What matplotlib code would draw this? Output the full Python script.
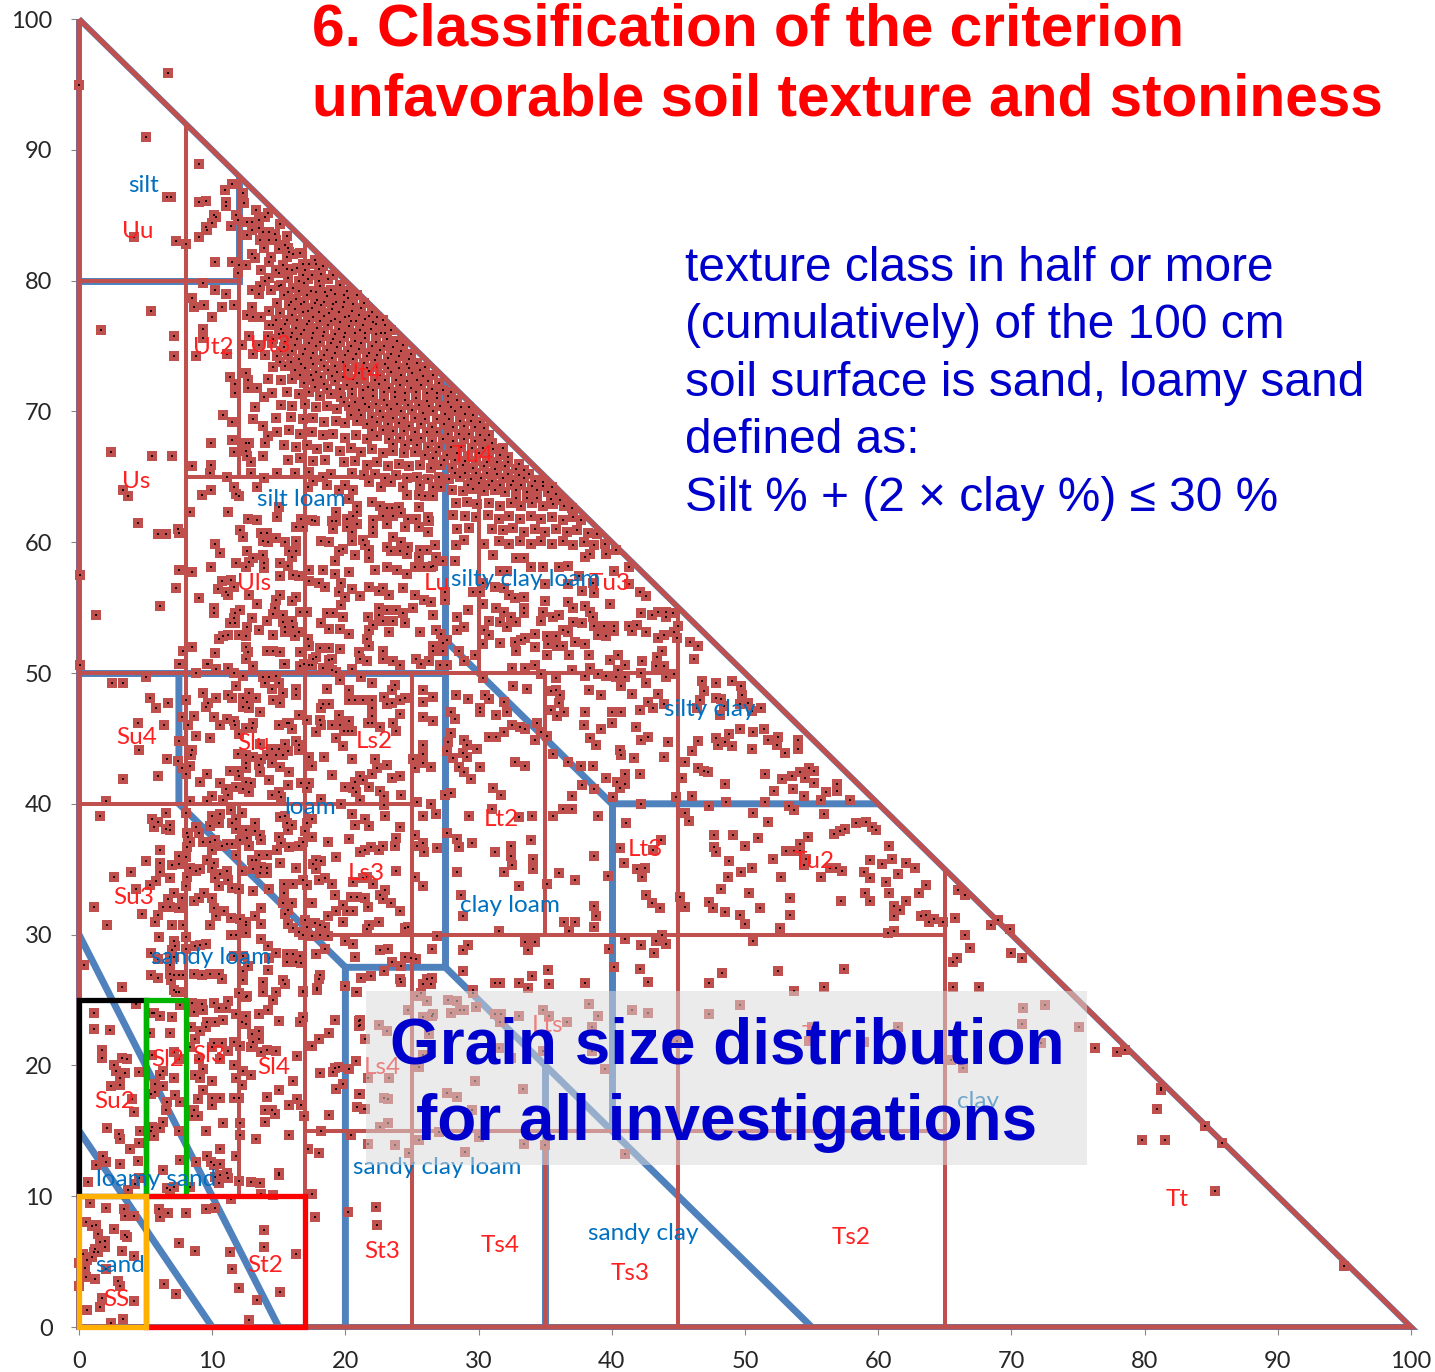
import matplotlib
matplotlib.use('Agg')
import numpy as np
import matplotlib.pyplot as plt
from matplotlib.patches import Rectangle

W, H = 1435, 1372
RED = '#C0504D'
BLUE = '#4F81BD'

# (clay, silt), region by region
silt_pts = [(6.66,95.84),(0.02,94.98),(5.05,90.95),(9,88.9),(11.5,87.4),(10.96,86.9),(6.6,86.4),(6.9,86.4),(9,86),(9.5,86.1),(11,86),(11,85.7),(12.3,86.7),(12.4,85.9),(13.3,85.4),(14.2,85.2),(10.1,85),(10.3,84.9),(9.95,84.4),(9.5,84.1),(9.6,83.9),(11.8,85),(11.9,84.6),(11.4,84.2),(12.6,84.5),(13,84.5),(13.5,84.6),(14,84.9),(15.1,84.3),(4.1,83.3),(9,83.3),(7.3,83),(8,82.8),(12.6,83.5),(13,83.9),(13.5,84),(13.8,83.7),(14.3,83.7),(14.7,83.6),(15.6,83.4),(13.6,83.1),(14.3,83.1),(14.8,83.1),(15.5,82.7),(15,82.4),(15.7,82.5),(15.8,82.2),(13.9,82.5),(10.2,81.4),(11.5,81.4),(12,81.2),(12.5,81.2),(11.9,80.6),(13,82),(13.2,81.75),(14.4,81.8),(14.3,81.4),(15.6,81.8),(16.1,82),(16.6,82.1),(13.7,80.8),(15.6,80.9),(16,80.8),(15,80.6),(14.3,80.2),(14,80),(16.8,81.3),(17.3,81.3),(17.8,81.3),(18.3,81.1),(19.1,80.4),(17.7,81.6),(16.8,80.4),(17.5,80.4),(18.2,80.5)]

upper_left_pts = [(9.3,79.8),(10.2,79.3),(11,79),(8.5,78.7),(8.6,78),(9.4,78.1),(10.7,78),(11.6,78.1),(10,77.2),(5.4,77.7),(1.65,76.2),(9.3,76.3),(7.1,75.8),(9.3,75.6),(12.8,75.8),(15.3,76),(13,79.3),(13.5,79),(13,78),(12.6,77.4),(13.1,77.2),(13.7,77.2),(14.3,77.7),(14.8,77),(14.3,76.6),(7.1,74.2),(8.8,74.2),(11.1,74.4),(12.2,75.1),(11.3,72.6),(11.7,72.1),(11.7,71.4),(12.5,72.9),(12.7,72.4),(12.7,71.8),(13.4,71.8),(13.9,71.1),(13.2,70.3),(10.8,69.7),(11.5,69.2),(13.1,69.4),(13.8,68.9),(9.9,67.6),(11.5,67.8),(11.6,66.9),(12.5,67.6),(12.8,67.6),(12.5,67),(12.6,66.6),(12.9,66.1),(6.95,66.6),(8.5,65.8),(9.9,65.9),(9.8,65.3),(11.1,65),(12.9,65.3),(13.9,64.9),(14.9,65.3),(13.8,66.6),(14,67.6),(14.2,68.1),(0.1,57.5),(0.1,50.6)]

dense_pts = [(13.6,79.6),(14.4,79.3),(15.2,79.7),(16.1,79.4),(16.9,79.8),(17.4,79.2),(18.1,79.6),(18.9,79.3),(19.6,79.7),(20.1,79.2),(15.4,78.9),(16.3,78.6),(17.1,78.9),(17.9,78.5),(18.6,78.8),(19.3,78.4),(20.2,78.7),(20.9,78.9),(21.4,78.3),(14.9,78.3),(15.8,78.1),(16.7,78.2),(17.5,77.9),(18.2,78.1),(19,77.8),(19.8,78),(20.5,77.7),(21.2,77.9),(22,77.6),(22.4,77.2),(15.1,77.5),(16,77.4),(16.8,77.6),(17.6,77.2),(18.4,77.3),(19.2,77.1),(20,77.2),(20.8,76.9),(21.5,77.1),(22.3,76.7),(23,76.6),(14.6,76.6),(15.5,76.7),(16.3,76.4),(17.1,76.7),(17.9,76.4),(18.7,76.6),(19.5,76.3),(20.3,76.5),(21.1,76.2),(21.9,76.3),(22.7,76),(23.4,76.2),(14.2,75.8),(15,75.9),(15.9,75.7),(16.7,75.9),(17.5,75.6),(18.3,75.8),(19.1,75.5),(19.9,75.7),(20.7,75.4),(21.5,75.6),(22.3,75.3),(23.1,75.5),(23.9,75.4),(24.3,75.1),(13.5,75.1),(14.5,75.2),(15.4,74.9),(16.2,75.1),(17,74.8),(17.8,75),(18.6,74.7),(19.4,74.9),(20.2,74.6),(21,74.8),(21.8,74.5),(22.6,74.7),(23.4,74.4),(24.2,74.6),(24.9,74.4),(13.1,74.4),(14,74.3),(14.9,74.2),(15.7,74.3),(16.5,74),(17.4,74.1),(18.2,73.9),(19,74.1),(19.8,73.8),(20.6,74),(21.4,73.7),(22.2,73.9),(23,73.6),(23.8,73.8),(24.6,73.6),(25.4,73.7),(26,73.4),(14.6,73.4),(15.5,73.5),(16.2,73.2),(17,73.3),(17.8,73),(18.7,73.2),(19.4,73),(20.2,73.2),(21,72.9),(21.8,73.1),(22.6,72.8),(23.4,73),(24.2,72.8),(25,72.9),(25.8,72.7),(26.6,72.8),(14.2,72.5),(15.2,72.4),(16,72.5),(16.9,72.2),(17.6,72.4),(18.4,72.1),(19.2,72.3),(20.1,72),(20.9,72.2),(21.7,71.9),(22.5,72.1),(23.3,71.8),(24.1,72),(24.9,71.8),(25.7,72),(26.5,71.7),(27.3,71.6),(27.9,71.5),(14.5,71.4),(15.6,71.5),(16.5,71.3),(17.3,71.5),(18.1,71.2),(18.9,71.3),(19.7,71.1),(20.5,71.3),(21.3,71),(22.1,71.2),(22.9,70.9),(23.7,71.1),(24.5,70.9),(25.3,71),(26.1,70.8),(26.9,71),(27.7,70.7),(28.4,70.9),(15.2,70.5),(16,70.4),(17,70.6),(17.8,70.3),(18.6,70.4),(19.4,70.2),(20.3,70.4),(21,70.1),(21.8,70.3),(22.6,70),(23.4,70.2),(24.2,70),(25,70.1),(25.8,69.9),(26.6,70),(27.5,69.8),(28.2,70),(29,69.8),(29.6,69.7),(14.8,69.5),(15.9,69.6),(16.8,69.4),(17.6,69.5),(18.4,69.2),(19.3,69.3),(20,69.1),(20.9,69.3),(21.6,69),(22.4,69.2),(23.2,69),(24,69.1),(24.8,68.9),(25.7,69),(26.5,68.8),(27.4,69),(28.1,68.8),(28.9,68.9),(29.7,68.8),(30.4,68.7),(14.9,68.4),(15.8,68.6),(16.6,68.3),(17.5,68.4),(18.3,68.2),(19.1,68.3),(20,68),(20.8,68.2),(21.6,67.9),(22.4,68.1),(23.3,67.9),(24.1,68),(24.9,67.8),(25.7,68),(26.5,67.7),(27.3,67.9),(28.1,67.7),(28.9,67.9),(29.7,67.7),(30.5,67.8),(31,67.6),(15.4,67.4),(16.3,67.3),(17.1,67.4),(17.9,67.1),(18.7,67.3),(19.6,67),(20.4,67.2),(21.2,66.9),(22,67.1),(22.8,66.8),(23.6,67),(24.4,66.8),(25.2,66.9),(26,66.7),(26.8,66.9),(27.6,66.7),(28.4,66.8),(29.2,66.6),(30,66.8),(30.8,66.6),(31.6,66.7),(32.2,66.5),(15.7,66.3),(16.6,66.4),(17.6,66.2),(18.5,66.3),(19.9,66.1),(20.7,66.2),(21.6,65.9),(22.4,66.1),(23.2,65.8),(24,66),(24.8,65.8),(25.6,65.9),(26.4,65.7),(27.2,65.9),(28,65.7),(28.8,65.9),(29.6,65.7),(30.4,65.8),(31.2,65.6),(32,65.8),(32.8,65.6),(33.4,65.5),(16.2,65.3),(17.3,65.4),(18.9,65.2),(20.5,65.3),(21.4,65.1),(22.2,65.2),(23,64.9),(23.8,65.1),(24.6,64.9),(25.4,65),(26.2,64.8),(27,65),(27.8,64.8),(28.6,65),(29.4,64.8),(30.2,64.9),(31,64.7),(31.8,64.9),(32.6,64.7),(33.4,64.9),(34.2,64.7),(34.8,64.6),(28,64),(28.8,63.9),(29.6,64.1),(30.4,63.9),(31.2,64),(32,63.8),(32.8,64),(33.6,63.8),(34.4,64),(35.2,63.8),(35.8,63.7),(28.3,63),(29.1,63.1),(29.9,62.9),(30.8,63),(31.6,62.8),(32.4,63),(33.2,62.8),(34,63),(34.8,62.8),(35.6,62.9),(36.4,62.8),(37,62.6),(28.1,62.1),(29,62),(29.8,61.9),(30.7,62.1),(31.5,61.8),(32.3,62),(33.1,61.8),(33.9,62),(34.7,61.8),(35.5,61.9),(36.3,61.7),(37.1,61.9),(37.7,61.7),(28.4,61),(29.3,61.1),(31,61),(31.8,60.9),(32.6,61.1),(33.4,60.8),(34.2,61),(35,60.8),(35.8,61),(36.6,60.8),(37.4,60.9),(38.2,60.7),(38.9,60.6),(28.9,60.2),(31.5,60.1),(32.3,59.9),(33.1,60.1),(33.9,59.9),(34.7,60.1),(35.5,59.9),(36.3,60.1),(37.1,59.8),(37.9,60),(38.7,59.8),(39.5,59.9)]

# the solid core along the diagonal, where single markers merge
core_pts = [(14.8,80.8),(15.3,81.2),(16.4,81),(17,80.8),(18,80.9),(15.7,80.2),(16.5,80),(17.2,80.1),(18,80),(18.7,80.1),(15,79.6),(15.7,79.1),(16.5,79.2),(17.8,79.1),(18.5,79.1),(19.2,79),(19.9,78.9),(15.9,78.4),(16.9,78.4),(17.7,78.3),(18.4,78.4),(19.1,78.2),(19.9,78.4),(20.6,78.2),(16.2,77.8),(17.2,77.7),(18,77.6),(18.8,77.5),(19.5,77.6),(20.3,77.3),(21,77.4),(21.8,77.3),(15.6,77),(16.4,77),(17.3,76.9),(18.1,76.9),(18.9,76.9),(19.6,76.8),(20.4,76.9),(21.3,76.6),(22.1,76.8),(22.8,77),(15.2,76.3),(16,76),(16.9,76.2),(17.6,76),(18.4,76.1),(19.2,75.9),(20,76),(20.7,76),(21.5,76),(22.3,75.9),(23,76),(14.6,75.5),(15.5,75.3),(16.4,75.5),(17.3,75.2),(18.1,75.3),(18.9,75.2),(19.6,75.3),(20.4,75),(21.2,75.2),(22,75),(22.9,75),(23.6,74.9),(15.2,74.6),(16,74.6),(16.8,74.4),(17.6,74.5),(18.4,74.3),(19.2,74.5),(20,74.3),(20.8,74.4),(21.6,74.2),(22.4,74.3),(23.2,74.1),(24,74.2),(24.8,74),(15.1,73.8),(15.9,73.8),(16.7,73.6),(17.6,73.6),(18.4,73.5),(19.2,73.5),(20,73.5),(20.8,73.4),(21.6,73.3),(22.4,73.4),(23.2,73.3),(24,73.3),(24.8,73.3),(25.6,73.2),(16.6,72.8),(17.4,72.8),(18.2,72.6),(19,72.7),(19.8,72.6),(20.6,72.5),(21.4,72.5),(22.2,72.4),(23,72.4),(23.8,72.4),(24.6,72.3),(25.4,72.4),(26.2,72.3),(27,72.2),(17.7,71.9),(18.6,71.7),(19.6,71.7),(20.5,71.7),(21.3,71.6),(22.1,71.6),(22.9,71.5),(23.7,71.5),(24.5,71.4),(25.3,71.5),(26.1,71.4),(26.9,71.4),(27.7,71.2),(19.9,70.7),(20.7,70.7),(21.5,70.6),(22.3,70.6),(23.1,70.5),(23.9,70.6),(24.7,70.5),(25.5,70.5),(26.3,70.4),(27.1,70.4),(27.9,70.3),(28.7,70.3),(29.3,70.3),(20.4,69.7),(21.2,69.7),(22,69.6),(22.8,69.6),(23.6,69.5),(24.4,69.5),(25.2,69.5),(26,69.4),(26.9,69.4),(27.8,69.4),(28.6,69.3),(29.4,69.3),(30.1,69.2),(22,68.6),(22.8,68.6),(23.6,68.5),(24.4,68.5),(25.2,68.4),(26.1,68.4),(26.9,68.4),(27.7,68.3),(28.5,68.3),(29.3,68.3),(30.1,68.2),(30.8,68.2),(23.6,67.5),(24.5,67.4),(25.4,67.4),(26.2,67.3),(27,67.3),(27.9,67.3),(28.7,67.3),(29.5,67.2),(30.3,67.2),(31.1,67.1),(31.8,67.2),(26.6,66.4),(27.4,66.3),(28.2,66.3),(29,66.2),(29.8,66.2),(30.6,66.1),(31.4,66.1),(32.2,66.1),(33,66),(28.2,65.3),(29,65.3),(29.8,65.3),(30.6,65.3),(31.4,65.2),(32.2,65.2),(33,65.1),(33.8,65.2),(29.2,64.4),(30,64.5),(30.8,64.4),(31.6,64.4),(32.4,64.4),(33.2,64.4),(34,64.3),(34.8,64.3),(35.5,64.2),(32.8,63.4),(33.6,63.4),(34.4,63.4),(35.4,63.3),(36.1,63.2)]

uls_pts = [(9.2,63.6),(9.9,64),(11.6,64.2),(11.8,63.7),(12,63.5),(13.4,64.2),(11.2,62.3),(12.7,61.8),(13.4,61.7),(14.9,61.9),(15,62.7),(12.1,60.9),(12.3,60.4),(10.2,59.9),(10.6,59.2),(13.7,60.7),(14.1,60.7),(13.8,60.1),(14.2,60),(14.8,60.3),(15.5,60),(16.3,60.1),(15.8,59.3),(16.3,59.3),(16,58.9),(12.6,59.3),(13.1,58.8),(12.8,58.5),(13.8,59),(13.9,58.4),(13.9,58),(11.8,58.4),(9.9,58.1),(12.5,58.1),(7.5,57.9),(8.5,57.7),(15.1,58.4),(15.7,58.2),(15.1,57.4),(16.1,57.5),(16.5,57.4),(17.3,57.9),(10.7,57),(11.4,57.1),(10.4,56.4),(11,56.2),(11.2,56),(11.6,56.6),(12.8,56),(15.1,56),(9,55.7),(10.1,55),(10.1,54.6),(13.4,55.3),(14.8,55.6),(14.7,55),(16.3,55.8),(16,55.5),(12.1,54.8),(11.7,54.6),(13,54.2),(14.6,54.5),(15.3,54.4),(11.6,54.2),(11.3,53.8),(11.7,53.8),(14.1,54),(15.3,53.9),(16,54),(15.5,53.5),(16.1,53.5),(16.6,54.7),(17.1,54.7),(13.5,53.3),(12.6,53.5),(12,52.9),(11.2,52.9),(10.8,52.8),(10.5,52.6),(14.6,52.9),(12.5,52.8),(15.5,53.1),(16.2,52.8),(16.5,53.1),(17.2,52.6),(8.5,52),(12.5,52),(12.7,51.6),(12.5,51.1),(10.2,51.5),(7.8,51.7),(14.1,51.7),(14.6,51.7),(15.1,51.6),(16.6,51.6),(17.3,52.1),(17.8,51.2),(7.6,50.7),(9.6,50.7),(15.5,50.7),(16.9,50.7),(17.3,50.6),(19,51.1),(1.3,54.4),(6.1,55.1),(7.3,56.5),(7.5,60.7),(8.3,62.3),(7.4,61),(6.5,60.6),(4.4,61.5),(5.9,60.6),(3.7,63.5),(3.3,64),(2.4,66.9),(5.5,66.6)]

lu_pts = [(17.6,64.7),(18.3,65),(17.2,64.2),(18.6,64.4),(19.5,64),(20,64.4),(20.6,64),(21.8,64.6),(22.7,64.2),(23.4,64.6),(24.3,64.2),(24.6,63.6),(25.6,64.4),(26.6,64.2),(27.2,64.2),(25.5,63.6),(26,63.5),(26.6,63.5),(20.3,63.3),(22,63.1),(20.9,62.8),(19.3,62.3),(20.9,62.3),(20.6,62),(22.6,62.8),(23.1,62.6),(23.5,62.6),(24,62.7),(24.2,62.2),(23.6,62),(22.8,62),(25.5,62.7),(26.2,61.9),(26.3,61.6),(16.7,61.8),(17.5,61.7),(17.7,61.6),(19,61.6),(19.3,61.6),(20.1,61.8),(20.9,61.4),(16.3,61.2),(16.8,61.2),(19.1,61),(20.1,61.2),(20.5,60.8),(22.1,61.7),(22.1,61.2),(23.1,61.4),(22.1,60.7),(24.7,61.8),(25.3,61.8),(25.5,61.2),(24.5,61.2),(26.2,60.8),(23.6,60.4),(24.2,60),(18.2,60.1),(18.8,60),(20.5,60.1),(21.3,60.2),(21.5,59.8),(21.8,59.4),(23.1,59.6),(23.4,59.3),(24.7,59.6),(24.6,59.1),(24.1,59.3),(19.8,59.5),(19.5,59.3),(20.7,59),(21.8,58.8),(19.2,58.6),(25.6,59.4),(26.1,59.4),(26.7,59.8),(25.5,58.9),(26.8,58.9),(28.2,58.6),(27.3,58.6),(25.2,58.1),(25.9,58.1),(26.4,58.1),(26.6,58.2),(22.2,57.9),(23.1,58.1),(23.9,57.9),(24.6,57.6),(18.3,57.9),(19.2,57.6),(20.3,57.7),(17.3,57),(18,56.9),(18.5,56.6),(19.7,56.9),(19.5,56.2),(20.5,56.4),(20,55.8),(21.1,55.9),(21.8,56.6),(22.5,56.3),(22.8,56.5),(23.3,56),(24.3,56.5),(25.2,56),(25.9,55.6),(26.4,55.4),(27.5,56.2),(27.5,55.6),(19.7,55.2),(18.6,54.6),(19.1,54.6),(19.8,54.3),(21.7,54.3),(22.5,54.4),(23.1,54.8),(22.5,55),(23.8,54.8),(24.3,54.6),(25.1,55),(26.6,54.4),(22.1,53.7),(22.8,54),(23.6,54),(24.5,53.8),(18.2,53.8),(18.8,53.4),(19.6,53.4),(20.3,53),(21.8,53.3),(23.3,53.1),(25.6,53.1),(26.8,53.3),(27.2,53),(21.6,52.6),(21.8,52.1),(26.6,52.1),(27.3,52.3),(18.1,51.9),(18.8,51.9),(19.6,51.8),(21,51.6),(22.8,51.7),(21.1,51.1),(21.6,50.9),(22.8,51.1),(23.6,50.9),(24.1,50.6),(25.3,51.1),(25.7,50.7),(26.3,50.9),(27.1,50.6),(27.6,50.6),(18.8,51),(17.6,51.1)]

scl_pts = [(28.3,59.8),(29.2,54.8),(28.4,54.3),(28.9,53.5),(28.4,53.3),(27.6,52.5),(28.5,51.7),(26.6,51.7),(27.3,51.7),(28.9,50.9),(29.7,51.4),(30.3,49.6),(30.3,55.3),(30.4,53.3),(30.8,52.9),(30.3,52.2),(30.8,54),(31.6,53.9),(32.1,53.5),(31.3,55),(31.9,54.7),(32.4,54.3),(32.8,53.9),(33.4,55),(33.4,54.6),(34.8,54.7),(35.6,54.3),(36,54.4),(34.96,55.5),(36.7,55.4),(37.1,55),(38,55.1),(38.4,54.7),(38.6,54.3),(37.1,53.9),(37.8,53.8),(38.7,53.6),(39.4,53.6),(34.7,54),(34.2,53),(33.5,52.7),(32.7,52.4),(33.2,52.5),(31.6,52.3),(32.8,51.7),(34.2,52),(35.1,52.8),(35.8,52.8),(35.2,52.2),(35.9,52.1),(35.1,51.4),(36.3,53.3),(36.7,53.1),(37.2,52.4),(38,52.2),(36.3,52.1),(36.8,51.4),(38.3,51.4),(39,52.9),(39.6,52.8),(40.2,53.6),(39.9,51),(32.5,50.4),(33.5,50.4),(34.2,50.6),(34.7,49.9),(35.8,49.6),(37,50.2),(38,49.8),(38.4,50.4),(39,49.9),(39.6,49.8),(40.5,50.2),(40.5,51.4),(41,50.6),(42.3,50.9),(43.4,51.2),(43.8,51.7),(43.9,50.5),(43.3,50.5),(44.7,49.9),(44.1,49.7),(42.2,50),(41,49.7),(40.3,49.7),(42.6,49.2),(30.4,59.9),(31.1,59),(31.6,57.8),(32.1,57.8),(32.8,58.8),(33.4,58.8),(33.9,58.1),(34.8,58.1),(36,58.1),(36.7,58.2),(38,58.9),(38.4,59.1),(39.6,59.1),(40.3,59.4),(41.3,58.1),(40.2,57.8),(41.3,56.8),(42.1,56.2),(42.6,55.9),(39.9,55.3),(29.6,56.2),(30.1,56.2),(31.2,56.6),(32.3,56),(32.7,55.7),(33.4,55.8),(35,56.8),(36.7,56.8),(37.8,56.3),(38.7,56.1),(38.6,56.9),(37.5,57.4),(31.9,56.5),(30.3,56.9),(42.2,54.6),(43,54.4),(43.5,54.7),(44.1,54.7),(44.6,54.6),(44.1,54.3),(45,53.6),(44.7,53.1),(44.9,52.7),(43.9,52.9),(43.5,52.7),(42.6,53.1),(41.9,53.7),(41.3,53.6),(41.5,53.2),(40.2,53.2),(45.9,52.4),(46.5,52.1),(46.2,51.1)]

silty_clay_pts = [(46.8,49.4),(47.8,49.2),(49,49.4),(49.7,49),(46.9,48.6),(49.8,48.3),(47.8,48.1),(48.2,48),(46.6,47.9),(46.4,47.3),(48.4,47.5),(49.6,47.6),(50.2,47.7),(51.2,47.3),(50.5,47.1),(48.1,46.8),(51.4,45.7),(49.6,45.7),(50.6,45.5),(48.8,45.3),(47.8,45),(48.5,44.7),(48,44.5),(49,44.4),(51.7,44.9),(52.5,45.1),(52.4,44.5),(50.5,44.2),(53,43.9),(54,44.9),(54,44.2),(46.5,44.8),(46,44),(45.5,43.2),(45.3,42),(46.5,42.7),(46.9,42.5),(47.2,42.4),(48.5,41.5),(51.5,42.3),(52.8,41.9),(53.5,42.1),(54.1,42.4),(54.5,42),(54.8,42.7),(55.2,42.5),(55.2,41.6),(52.2,41),(53.6,41.1),(54.4,40.6),(56.1,40.9),(56.9,41.5),(56.9,41),(55.7,40.3),(57.9,40.3),(51.5,40.1),(46,40.6),(44.8,40.5),(47.3,39.8),(48.6,40.1),(53.3,39.8),(53.7,39.5),(50.6,39.3),(55.9,39.2),(45.5,39.3),(45.8,38.7),(51.7,38.6),(58.3,38.5),(59.1,38.6),(59.5,38.2),(59.8,38)]

tu2_pts = [(57.5,38.1),(57.1,37.9),(56.7,37.7),(54.7,37.5),(47.7,37.6),(49.1,37.6),(51,37.4),(54.1,36.9),(53.1,36.4),(53.7,36.4),(54.1,36.4),(50,36.8),(47.7,36.7),(47.8,36.3),(52.1,35.8),(54.6,35.8),(54.4,35.3),(48.8,35.6),(56.4,35.1),(56.8,35.1),(57.3,34.9),(49.7,34.8),(50.5,35.1),(48.7,34.4),(52.7,34.4),(55.7,34.4),(60.8,36.8),(61,35.8),(60.3,35.4),(59.4,35.7),(58.9,34.8),(59.4,34.3),(62.1,35.5),(62.8,35.1),(61.5,34.6),(60.6,34),(60.8,33.2),(63.6,33.8),(63.1,33.2),(59,33.2),(59.4,32.6),(62.1,32.6),(57.2,32.6),(53.4,32.8),(50.3,33.2),(48.2,33.5),(61.2,32.2),(61.6,31.9),(61.2,31.4),(63.2,31.4),(63.6,31.5),(63.8,31),(64.2,31.2),(64.9,31),(65.8,31.3),(61.2,30.3),(60.7,30.1),(53.4,31.5),(51.1,32),(49.6,31.5),(48.5,31.7),(50,30.8),(47.3,32.5),(47.6,32),(52.6,30.5),(50.6,29.5),(45.1,32.9),(45.5,32.1)]

lt3_pts = [(40.7,49),(41.5,48.4),(42.7,47.8),(43.1,47.3),(43.5,48.4),(43.9,47.6),(42.1,47.2),(40.7,47),(40,47),(40,46.2),(41.8,45.9),(42.2,44.9),(42.7,45.1),(44.2,44.7),(43.9,43.6),(41.7,43.5),(40.6,44.1),(40.7,43.7),(39.6,42),(41,42.3),(42.1,42.3),(40.4,41.7),(41,41.5),(40.6,41.2),(40.1,40.5),(42.2,40),(41.1,38.5),(40.6,36.6),(43.1,36.5),(43.7,37.2),(40.9,35.5),(41.9,35),(42.5,35.1),(42.3,34.4),(42.6,33),(43,32.4),(43.6,32),(41,29.7),(42.2,29.2),(43.3,29.5),(43.8,30),(44.1,29.3),(43.2,28.6),(39.8,28.9),(39.7,34.5),(40.2,27.5),(42.1,27.4),(42.7,24)]

clay_loam_pts = [(28.3,48.3),(29.2,48),(30.1,47.3),(30.1,47),(30.8,48),(30.5,48.3),(31.9,47.8),(31.3,46.8),(32.1,47),(32.5,46),(33.1,45.9),(33.5,45.7),(34.4,46.2),(30.8,45.1),(31.3,45.1),(31.9,45.5),(34.2,44.9),(34.7,45.5),(35.1,45.2),(32.7,43.2),(33.5,42.9),(35.6,43.8),(36.7,43.2),(37.7,42.9),(38.6,42.9),(32.6,49),(33.6,48.8),(35.4,48.6),(35.8,48.7),(36.1,48.3),(36,47.7),(35.4,47.2),(36.4,47),(35.9,46.7),(38.3,48.7),(39.2,48.3),(38,47),(37.9,46),(39.2,45.7),(38.4,45),(38.8,44.5),(37.8,41.4),(38.7,41.1),(37,40.6),(36.3,39.6),(37,39.6),(35.6,39.1),(39,39.1),(31.1,41.2),(31.7,40.7),(31,39.6),(29.3,39.1),(33,39),(34,39.1),(33.9,37.2),(32.4,36.8),(32.4,36),(34.1,35.8),(34.1,35),(32.5,35.3),(31.9,34.8),(31.2,36.3),(29.5,37),(28.4,37.3),(28.5,36.7),(28.4,34.8),(33,33.7),(28.7,33),(36,34.7),(37.2,34.2),(35.1,33.9),(38.7,36),(38.7,32.2),(38.8,31.4),(38.7,30.6),(36.4,31),(37.2,31),(36.8,30.3),(28.8,31.4),(31.5,30.3),(29.2,29.2),(28.8,28.8),(33.5,29.4),(34.2,29.4),(33.7,28.8),(27.6,37.8),(25.8,48.7),(26.6,48.2),(25.8,47.8),(25.8,46.6),(26.6,46.3),(27.9,47),(28.2,46.5),(27.9,45.4),(27.7,44.7),(28.9,44.9),(29.1,44.5),(29.9,44.2),(27.6,44),(28.8,43.9),(29.1,43.6),(28.1,43.5),(30.1,42.8),(28.5,42.8),(28.9,42.4),(29.4,41.9),(25.8,44.5),(25.8,43.8),(25.1,43.4),(25.8,43.1),(26.4,42.8),(25.2,42.7),(27.5,40.7),(27.9,40.8),(25.4,40.1),(26.4,40),(25.8,39.1),(26.8,39.2),(25.2,37.6),(25.8,37),(25.4,36.8),(25.9,36.3),(26.9,36.6),(25.2,34.4),(25.8,33.7),(26.9,29.9),(26.5,28.9),(24.5,28.3),(24.9,28.2),(25.3,28.1)]

lower_mid_pts = [(28.8,27.2),(35.2,27.3),(34,26.8),(33.7,25.9),(29.6,25.8),(38,26.3),(25.7,25.5),(26.5,26.7),(26.1,26.6),(25.8,26.2),(28.9,24.2),(29.8,24.5),(31.2,23.9),(31.7,23.9),(33,23.8),(34.8,24.2),(35.3,23.8),(25.8,23.7),(26.5,23.8),(48.3,27.1),(52.5,27.2),(57.4,27.4),(53.7,25.7),(55.9,26),(49.6,24.6),(47.3,23.9),(65.6,27.9),(65.6,26),(25.4,25.3),(26.1,24.9),(27.7,25),(28.4,24.9),(29.6,25.5),(24.7,24.2),(26.6,23.9),(27.9,24),(28.6,24.2),(22.5,23.1),(23.1,22.6),(26.3,22.4),(31.6,23.3),(38.3,24.7),(39,23.8),(41.5,24.2),(36.6,23.3),(38.5,22.9),(38.5,21.1),(31.5,21.3),(34.8,21.1),(32.4,20.6),(25.8,20.8),(39.5,19.7),(25.5,19.9),(21.7,19),(23.3,19),(29.7,18.8),(33.3,18.2),(27.6,17.9),(28.4,17.6),(22.9,17.5),(23.2,17.4),(29.5,16.6),(23.2,15.6),(22.6,15.3),(27,14.9),(25.5,14.3),(21.7,14),(23.7,13.9),(33.4,14),(35,13.9),(30,14.5),(24.8,13.3),(29,13.4),(41,13.2),(70.9,24.4),(72.5,24.6),(70.8,23.2),(75.1,22.9),(61.5,22.9),(72.2,21.7),(58.9,21.8),(65.5,20.4),(66.4,19.8),(55,22.9),(54.8,21.9),(44.9,21.9),(67.6,26),(42.7,26.4),(47.3,26.3),(25.8,26.2),(26.4,26.2),(31.2,26.3),(31.6,26.3),(33,26.3),(35.3,26.2),(24.2,26.4),(21.5,22),(21,23.4),(21,23),(76.3,21.3),(21,17.8),(21.4,16.7)]

clay_pts = [(77.9,21),(78.5,21.2),(81.2,18.1),(80.9,16.7),(79.8,14.3),(81.5,14.3),(84.5,15.4),(85.8,14.1),(85.3,10.4),(95,4.7),(81.2,18.3),(66.5,30),(66.9,29),(65.9,28.2),(69.9,30.4),(69,31.1),(70,28.6),(70.8,28.2),(66,33.4),(66.5,33),(68.5,30.7)]

su2_pts = [(1.15,24),(1.1,22.8),(2.3,22.7),(1.75,21.2),(1.75,20.6),(3.2,20.6),(3.6,20.5),(2.6,20),(2.75,19.6),(3.45,19.4),(4.5,19.5),(3.1,19),(3.1,18.5),(2.4,18.4),(3.95,17.4),(4.15,16.4),(2.1,15.2),(3,14.75),(3.1,14.4),(4.6,15),(4.5,14.1),(3.8,13.6),(1.8,13.1),(2,12.6),(1.3,12.4),(3.1,12.5),(4.4,12.7),(0.7,11.1),(4.5,11.4),(4.2,10.9),(3.7,10.5),(4.3,24.7)]

sl2_pts = [(5.6,24),(6.1,23.8),(7,23.7),(5.45,24),(7.6,24.6),(6.8,22.5),(5.3,22.5),(5.5,20.8),(7.1,21),(7.5,20.5),(6.3,19.6),(6.1,19.3),(7.1,19),(5.7,18.6),(6.3,18.4),(5.7,18),(5.4,17.8),(7.2,17.7),(6.6,17.2),(7.6,17.2),(6.5,16.6),(6.3,15.7),(5.5,15.3),(6.1,15.2),(5.4,15),(5.6,14.6),(7.5,15),(6.3,12),(7.6,12.8),(6.8,10.5),(6.6,10.6),(7.1,10.7)]

sl3_pts = [(8.5,24.8),(9.2,24.7),(8.6,24.1),(9.3,24.2),(10.1,24.8),(11.2,24.9),(10.5,24.4),(11,24.4),(10.8,23.5),(10.2,23.3),(9.6,23.3),(9.5,22.9),(9.1,22.6),(8.4,22.9),(8.7,22),(10.1,21.7),(10.7,21.7),(11.6,21.8),(8.3,21.4),(10,21.4),(11.2,21.1),(9,20.5),(10.6,20.5),(9.3,19.7),(8.7,19.3),(9.1,19),(10,18.8),(9.3,18.1),(8.9,17.4),(10,17.5),(10.6,17.5),(10,17),(8.6,16.6),(8.9,16.1),(8.5,16.1),(10.8,15.6),(9.5,15),(10.6,13.6),(9.6,13.1),(9.9,12.6),(8.8,12.6),(10.6,12.5),(10.1,12.4),(11.1,11.8),(10.6,11.6),(10.2,11.5),(11.2,11.4),(10.5,11),(8.3,10.7),(11.4,9.8)]

sl4_pts = [(11.8,23.9),(12.5,23.8),(12.2,23.3),(12.5,23.2),(13.5,23.9),(14.2,24.2),(15,23.4),(13.5,22.6),(13,22.4),(13.5,22),(13.1,21.8),(12.1,21.5),(12.9,21.4),(14.1,21.2),(13.7,21),(14.8,21.1),(16.4,20.7),(11.6,20),(12.3,19.6),(12.9,19.3),(11.8,19),(12.2,18.5),(16.1,18.8),(15,18.1),(14.1,17.6),(11.6,17.5),(12,17.5),(14,16.6),(14.5,16.6),(14.7,16.3),(14,15.7),(15.8,17),(16.4,17.4),(16.7,17),(12.1,15.6),(12.1,14.7),(13.3,14.4),(15.8,14.7),(11.8,13.1),(15,11.8),(15,11.6),(12,11.2),(12.9,11.1),(13.6,11),(13.7,10.2),(14.6,10.1)]

ls4_pts = [(16.9,16.1),(18.8,16.2),(18.2,15),(17.2,13.6),(18,13.3),(20.4,14.7),(17.5,10.2),(17.7,8.4),(20.2,8.8),(22.3,9.2),(22.4,7.8),(20.9,16.8),(21.5,16.7),(21.1,17.8),(19.3,18.2),(19.8,18.6),(18.1,19.4),(19.1,19.5),(19.2,19.8),(19.5,19.9),(20.3,19.7),(20.8,20.3),(17.5,21.5),(18,22),(18.8,22.5),(19.2,23.5),(16.6,23.3),(16.8,23.7),(21.5,22),(21.1,23.5),(21.1,23.1),(7.3,25.6),(12,25.5),(12.5,25.2),(13.8,25.6),(14.6,25),(16.8,25.6),(17.9,25.8),(20.8,25.6)]

sand_pts = [(0.8,9.45),(2,9.1),(3.4,9),(3.45,8.5),(4.1,8.5),(0.5,8),(1,7.7),(1.3,7.8),(2.6,7.5),(1.45,7.1),(3.45,7),(3.6,6.9),(1.95,6.6),(1.6,6.5),(1.95,6.1),(1.2,6),(1.1,5.75),(1.45,5.7),(3.2,5.8),(4.1,5.45),(0.3,5.6),(0.95,5.35),(0.6,5.1),(0,4.9),(0.45,4.5),(2,4.4),(0.5,3.8),(1.2,3.7),(2.95,3.5),(3.1,3.15),(0,3.1),(1.7,2.2),(4.1,2),(1.6,1.5),(0.6,1.3),(3.3,0.6),(2.4,0.3)]

st2_pts = [(6,9),(6.1,8.4),(6.7,8.7),(8,8.7),(9.5,9),(10.2,9.1),(7.5,6.4),(8.7,5.8),(11.3,5.7),(13.9,7.4),(13.9,6.1),(16.3,5.6),(11.5,4.4),(6.4,3.3),(7.3,2.5),(12,3),(15.1,2.7),(13.4,2.1),(12.8,0.5)]

slu_pts = [(7.5,50.7),(9.66,50.7),(10.3,50.3),(11.2,50.4),(11.6,50),(12.3,49.8),(13.1,50.5),(15.4,50.7),(16.6,50.5),(17.5,50.6),(18.3,50.4),(19,50.2),(19.3,50.1),(20.5,50.3),(21.2,49.7),(8.8,50),(5,49.7),(2.45,49.2),(3.3,49.2),(5.3,48.1),(6.7,47.7),(5.8,47.3),(8,47.9),(9.3,48.5),(9.7,47.7),(9.5,47.4),(10.3,48.1),(11.2,48.3),(11.5,48.1),(11.8,49),(12.3,48.1),(12.8,48.5),(13.3,48.1),(12.6,47.8),(12.3,47.4),(12.8,47.3),(13.6,47),(13.8,49.7),(14.3,49.7),(14.8,49.8),(14,49.2),(14.5,48.8),(15,49.2),(15.3,48.5),(14.6,47.9),(15.1,47.7),(16.3,48.8),(16.3,48.3),(16.5,46.8),(17.1,46.4),(18.6,48.8),(20.3,48.7),(20.3,47.9),(20.7,47.9),(21.3,47.9),(22,47.9),(22.9,48.2),(23.5,48.7),(23.7,49.1),(22,49.2),(19.6,49.5),(18.3,47.6),(18.8,47.6),(18.2,47.3),(19.5,46.8),(23.1,47.6),(23.5,47.7),(24.1,47.9),(24.5,48.1),(24.1,46.9),(22,47.3),(22,46.7),(22,46.2),(23.6,46.2),(23.8,45.6),(21.7,46.2),(22.6,45.9),(7.7,46.6),(8.6,46.7),(8.2,46),(6.4,46),(4.4,46.2),(10.1,46.6),(11.1,46.5),(11.6,46.3),(10.6,46),(11.7,46),(12.5,45.8),(13.1,46.2),(13,45.8),(15,46),(15.6,46.2),(15.8,46.2),(16,45.7),(18.1,46.4),(18.2,46),(17.8,45.5),(19,46),(19.6,46),(20.3,46.3),(19.9,45.6),(20.2,45.6),(20.5,45.6),(8.8,45.2),(9.8,45),(7.5,44.8),(8.5,44.1),(4.5,44.1),(6.6,43.4),(7.4,43.3),(8.4,43.7),(8.3,42.9),(7.7,42.7),(8,42.3),(5.9,42.1),(3.3,41.9),(12,45.3),(13.6,44.6),(14.5,44.2),(15,44.2),(15.5,44.6),(16.3,44.8),(16.5,44.5),(16.5,44.1),(15.7,44),(15.3,43.7),(14.8,43.7),(14.1,43.7),(13.7,43.4),(14.5,43.1),(11.9,43.8),(12.5,43.7),(13.1,43.6),(12.5,43.1),(12.5,42.7),(13.5,43),(13.6,42.4),(15.1,42.8),(15.8,42.4),(17.3,43.6),(17.5,42.9),(18.4,43.6),(19.3,45),(19.8,44.4),(20.5,43.4),(22.2,43.4),(23.1,43),(22.4,42.7),(22,42.3),(19,42.2),(24.1,42.1),(23.5,42),(21.1,42.1),(21.3,41.8),(20.7,41.7),(20.6,41.2),(20.8,40.9),(20,41.3),(21.8,41.3),(22.6,41),(22.9,40.6),(24.2,40.7),(11.3,42.5),(11.9,42.5),(9.6,42.3),(9.1,41.7),(10.6,41.6),(12,42.1),(12.5,41.7),(12.9,41.6),(14.3,41.8),(15.7,41.4),(16.7,41.6),(17.3,41.6),(17.1,41.2),(11,41.1),(11.8,41.3),(12.3,41.1),(12.8,40.9),(11.2,40.7),(10,40.6),(14.5,40.7),(15,40.9),(15.2,40.5),(2,40.2),(8.3,40.2),(9.6,40.2),(10.8,40.3),(18.2,40.4),(19.7,40),(21.1,40.3),(22.9,39.9)]

sandy_loam_pts = [(1.6,39.1),(8,39.3),(6.5,39.3),(5.5,38.8),(5.9,38.6),(5.6,38.2),(6.8,38.4),(6.5,38.1),(6.8,38),(8.8,38.2),(9,37.8),(8.1,37.8),(10,39.1),(10.6,39.2),(9.8,38.3),(10.5,38.5),(11.4,39.5),(12.2,39.3),(11.8,38.8),(11.5,38.5),(11.8,38.1),(12.5,38),(13.2,38.5),(13.2,37.9),(13.6,37.6),(12.1,37.2),(12.6,37.4),(12.8,36.8),(13.7,37.2),(8.2,37.5),(8.3,37.1),(8.1,36.7),(9.3,37.1),(9.8,37.1),(10.2,37.2),(10.7,36.8),(11.1,36.9),(11.5,36.9),(10,36.5),(11.8,36.1),(15.5,39.1),(15.1,39),(15.6,38.5),(16,38.4),(15.7,38),(15,37.5),(15.2,37),(14.9,36.5),(15.8,36.7),(16.5,36.8),(16.8,37.1),(17.5,38.8),(17.1,38.5),(17,37.9),(17.5,37.5),(18.7,37.1),(20.5,39.2),(20.7,38.4),(21.5,38.8),(21.8,38.3),(23,39.1),(24.1,38.2),(20.3,37.3),(23.8,37.4),(23.7,36.8),(19.3,35.9),(21.1,36.3),(21.5,36.5),(21.9,36.7),(22.5,36.5),(22.8,36.8),(15.1,35.5),(18.2,35.6),(17.8,35.7),(17.6,35.4),(17.8,35),(16.3,35.1),(23.8,34.9),(13,35.7),(13.5,36.1),(14.1,36.1),(13.3,35.7),(13.7,35.2),(14.1,35.1),(13.1,35),(13.6,34.7),(14.1,34.7),(12.2,34.9),(7.5,36),(8,35.9),(6.1,36.5),(5,35.6),(6.1,35.5),(7,35.3),(7.5,35.4),(9.6,35.7),(10.1,35.5),(10,35.1),(8.3,35.1),(8.8,34.9),(9.1,35),(3.9,34.8),(2.6,34.4),(6.1,34.8),(6.8,34.3),(8.1,34.4),(10.2,34.3),(10.6,34.6),(11.1,34.9),(11.2,34.2),(5.8,34.1),(5.3,33.8),(4.3,33.5),(8,33.7),(10.5,33.7),(11.5,33.6),(12,33.5),(13.1,33.3),(14.3,33.5),(15.4,33.9),(16.1,33.9),(15.4,33.2),(16.8,34.2),(17.1,33.8),(18,34.2),(18.5,34.3),(19,33.9),(20.6,34),(21.3,34.3),(21.6,34.4),(22.1,33.9),(23,33.4),(19.2,33),(20.4,32.9),(20.9,32.9),(21.5,32.8),(22.6,33),(22.8,32.7),(23.4,32.4),(7.1,33.2),(6.7,32.7),(7.7,32.8),(9.4,33.2),(9,32.8),(8.6,32.6),(10,32.8),(15.3,32.4),(16,32.4),(17.5,32.4),(1.1,32.1),(6.3,32.1),(6.8,32.1),(7.5,32),(10.1,32),(10.9,31.8),(10.3,31.4),(13.7,32),(15.7,31.9),(15.5,31.6),(19.8,32.3),(20.1,31.8),(20.6,31.8),(21.7,32.1),(24.1,31.8),(19.3,31.8),(4.75,31.6),(5.95,31.5),(5.7,31),(11.4,31.3),(12.1,31.2),(13.2,31.4),(12.5,31),(18.7,31.4),(19.8,31),(2.1,30.7),(7,30.7),(7.8,30.7),(9.8,30.7),(12.5,30.7),(13.7,30.8),(15.7,30.8),(16.1,30.5),(17,31.1),(17.1,30.6),(17.7,30.9),(18.1,30.7),(18.5,30.6),(21.8,30.7),(22.5,31),(21.6,30.4),(24.5,30.5),(24.7,30.6),(8,29.8),(6,29.8),(16.5,30.2),(16.8,30),(17.5,29.9),(18.1,30),(18.7,29.9),(11.4,30),(11.8,30),(12.5,30.1),(13.7,29.7),(7.1,29.5),(9.5,29.3),(9.1,29.2),(8.7,29.1),(8,28.9),(7.2,29.1),(7,28.8),(14.2,29.1),(20,29.5),(20.6,29.3),(18.5,28.9),(22.6,28.8),(23.2,28.9),(5.4,28.6),(14.8,28.6),(15.6,28.5),(16.1,28.5),(16.6,28.4),(17.8,28.5),(20.7,28.3),(6.8,28.3),(7.1,28.3),(5.9,28.1),(11.6,28.4),(12.3,28.4),(14.3,28.2),(15.6,27.9),(16.3,27.9),(16.7,27.8),(23.5,27.9),(24.2,27.6),(0.4,27.7),(6.8,27.7),(12.7,27.6),(12.3,27.2),(14.2,27.3),(22.9,27.2),(5.4,26.9),(5.9,26.7),(6.8,27),(7.1,26.9),(7.5,26.9),(7.8,26.9),(8.6,27),(9.2,26.9),(9.8,27),(10.5,27),(10.7,26.6),(12.3,26.5),(6.9,26.5),(18.1,26.9),(18,26.6),(21.2,26.7),(21.9,26.8),(24.1,26.6),(13.8,26.4),(15.3,26.5),(15.5,26.2),(3.2,26),(17.9,25.9),(20,26.1),(20.9,25.6),(7.1,25.8),(7.5,25.6),(13.8,25.6),(14.8,25.6),(16.8,25.7),(12.6,25.3)]

point_groups = [silt_pts, upper_left_pts, dense_pts, core_pts, uls_pts, lu_pts, scl_pts, silty_clay_pts, tu2_pts, lt3_pts, clay_loam_pts, lower_mid_pts, clay_pts, su2_pts, sl2_pts, sl3_pts, sl4_pts, ls4_pts, sand_pts, st2_pts, slu_pts, sandy_loam_pts]

# texture class borders, blue = USDA, red = KA5
usda_lines = [
    ([0, 100, 0, 0], [100, 0, 0, 100]),
    ([0, 12, 12], [80, 80, 88]),
    ([0, 27.5], [50, 50]),
    ([27.5, 27.5], [72.5, 27.5]),
    ([7.5, 7.5, 20, 20], [50, 40, 27.5, 0]),
    ([20, 27.5, 55], [27.5, 27.5, 0]),
    ([27.5, 40, 60], [52.5, 40, 40]),
    ([40, 40], [40, 15]),
    ([35, 35], [20, 0]),
    ([0, 15], [30, 0]),
    ([0, 10], [15, 0]),
]
ka5_lines = [
    ([0, 100, 0, 0], [100, 0, 0, 100]),
    ([8, 8], [10, 92]),
    ([12, 12], [65, 88]),
    ([12, 12], [10, 40]),
    ([0, 12], [80, 80]),
    ([8, 35], [65, 65]),
    ([17, 17], [0, 83]),
    ([25, 25], [0, 50]),
    ([30, 30], [50, 65]),
    ([35, 35], [30, 50]),
    ([35, 35], [0, 15]),
    ([45, 45], [0, 55]),
    ([65, 65], [0, 35]),
    ([0, 45], [50, 50]),
    ([0, 25], [40, 40]),
    ([17, 65], [30, 30]),
    ([17, 65], [15, 15]),
    ([0, 17], [10, 10]),
]
# x0, y0, width, height, colour
boxes = [(0, 10, 5, 15, 'black'), (5, 10, 3, 15, '#00B400'), (5, 0, 12, 10, '#FF0000'), (0, 0, 5, 10, '#FFB000')]

ticks = list(range(0, 101, 10))

ka5_labels = [('Uu',138,232),('Ut2',213,347),('Ut3',270,346),('Ut4',361,374),('Tu4',473,456),('Us',136,481),('Uls',254,583),('Lu',437,584),('Tu3',610,584),('Su4',137,737),('Slu',253,743),('Ls2',374,741),('Lt2',501,819),('Lt3',645,850),('Tu2',814,862),('Ls3',366,873),('Su3',134,898),('Lts',548,1026),('Tl',812,1035),('Su2',115,1101),('Sl2',168,1060),('Sl3',209,1055),('Sl4',274,1067),('Ls4',382,1068),('St2',265,1265),('St3',382,1251),('Ts4',500,1246),('Ts3',630,1274),('Ts2',851,1238),('Tt',1177,1200),('SS',116,1299)]
usda_labels = [('silt',144,185),('silt loam',301,499),('silty clay loam',526,579),('silty clay',710,710),('loam',310,808),('clay loam',510,905),('sandy loam',211,957),('clay',978,1102),('sandy clay loam',437,1168),('loamy sand',156,1179),('sand',120,1266),('sandy clay',643,1233)]
title_lines = [('6. Classification of the criterion', 45), ('unfavorable soil texture and stoniness', 115)]
info_lines = [('texture class in half or more', 281), ('(cumulatively) of the 100 cm', 338), ('soil surface is sand, loamy sand', 396), ('defined as:', 453), ('Silt % + (2 × clay %) ≤ 30 %', 511)]
grain_lines = [('Grain size distribution', 1064), ('for all investigations', 1140)]


def fx(x):
    return x / W


def fy(y):
    return 1 - y / H


fig = plt.figure(figsize=(W / 100, H / 100), dpi=100, facecolor='white')
ax = fig.add_axes([fx(79), fy(1327), (1411 - 79) / W, (1327 - 19) / H])
ax.set_xlim(0, 100)
ax.set_ylim(0, 100)
for s in ax.spines.values():
    s.set_visible(False)
ax.set_xticks(ticks)
ax.set_yticks(ticks)
ax.tick_params(axis='both', length=6, width=0.8, color='#868686', labelcolor='#262626', labelsize=17)
ax.tick_params(axis='x', pad=11)
ax.tick_params(axis='y', pad=13)
for lab in ax.get_xticklabels() + ax.get_yticklabels():
    lab.set_fontfamily('Lato')

for i, (xs, ys) in enumerate(usda_lines):
    ax.plot(xs, ys, color=BLUE, lw=4.3 if i == 0 else 5, solid_joinstyle='miter', solid_capstyle='butt', clip_on=False, zorder=2)
for i, (xs, ys) in enumerate(ka5_lines):
    ax.plot(xs, ys, color=RED, lw=3.6 if i == 0 else 2.9, solid_joinstyle='miter', solid_capstyle='butt', clip_on=False, zorder=3)

pts = np.array([p for group in point_groups for p in group])
ax.scatter(pts[:, 0], pts[:, 1], s=46, marker='s', color=RED, linewidths=0, clip_on=False, zorder=4)
ax.scatter(pts[:, 0], pts[:, 1], s=3, marker='s', color='#1A0505', linewidths=0, clip_on=False, zorder=5)

for x0, y0, w, h, c in boxes:
    ax.add_patch(Rectangle((x0, y0), w, h, fill=False, edgecolor=c, lw=3.8, clip_on=False, zorder=6))

for txt, x, y in ka5_labels:
    ax.text(fx(x), fy(y), txt, transform=fig.transFigure, color='#FF2020', fontsize=17.5, family='Lato',
            ha='center', va='center', zorder=7)
for txt, x, y in usda_labels:
    ax.text(fx(x), fy(y), txt, transform=fig.transFigure, color='#0070C0', fontsize=17.5, family='Lato',
            ha='center', va='center', zorder=7)

# translucent panel lies over the chart, its caption on top
fig.add_artist(Rectangle((fx(366), fy(1165)), (1087 - 366) / W, (1165 - 991) / H, transform=fig.transFigure,
                         facecolor='#D9D9D9', edgecolor='none', alpha=0.52, zorder=5))
for txt, y in grain_lines:
    fig.text(fx(727), fy(y), txt, color='#0000CC', fontsize=46, fontweight='bold', family='Liberation Sans',
             ha='center', va='baseline', zorder=6)
for txt, y in title_lines:
    fig.text(fx(312), fy(y), txt, color='#FF0000', fontsize=42.2, fontweight='bold', family='Liberation Sans',
             ha='left', va='baseline', zorder=6)
for txt, y in info_lines:
    fig.text(fx(685), fy(y), txt, color='#0000CC', fontsize=34.5, family='Liberation Sans',
             ha='left', va='baseline', zorder=6)

fig.savefig('out.png', dpi=100, facecolor='white')
